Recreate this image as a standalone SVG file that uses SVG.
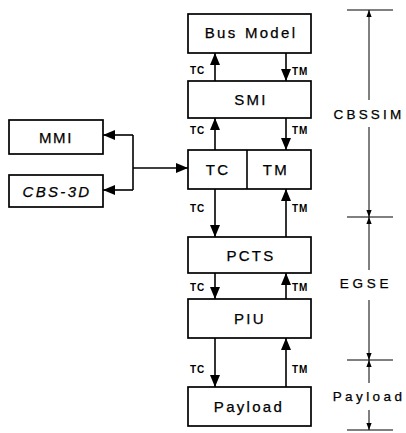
<svg xmlns="http://www.w3.org/2000/svg" width="406" height="433" viewBox="0 0 406 433">
<style>
.box{fill:#fff;stroke:#000;stroke-width:1.7}
.t{font-family:"Liberation Sans",Arial,sans-serif;font-size:15px;letter-spacing:2.3px;text-anchor:middle;fill:#000;stroke:#000;stroke-width:0.25}
.d{font-family:"Liberation Sans",Arial,sans-serif;font-size:13.5px;letter-spacing:3.2px;text-anchor:middle;fill:#000;stroke:#000;stroke-width:0.25}
.s{font-family:"Liberation Sans",Arial,sans-serif;font-size:10px;font-weight:bold;fill:#000;letter-spacing:1px}
.ln{stroke:#000;stroke-width:1.6;fill:none}
.dl{stroke:#000;stroke-width:1;fill:none}
</style>
<defs>
<marker id="ah" viewBox="0 0 12 10" refX="12" refY="5" markerWidth="12" markerHeight="10" markerUnits="userSpaceOnUse" orient="auto">
<path d="M0,0 L12,5 L0,10 Z" fill="#000"/>
</marker>
<marker id="sh" viewBox="0 0 8 6" refX="8" refY="3" markerWidth="7" markerHeight="6" markerUnits="userSpaceOnUse" orient="auto">
<path d="M0,0 L8,3 L0,6 Z" fill="#000"/>
</marker>
</defs>
<g id="connectors">
<path class="ln" d="M215,81 V53" marker-end="url(#ah)"/>
<path class="ln" d="M286,53 V81" marker-end="url(#ah)"/>
<path class="ln" d="M215,150 V118" marker-end="url(#ah)"/>
<path class="ln" d="M286,118 V150" marker-end="url(#ah)"/>
<path class="ln" d="M215,189 V237" marker-end="url(#ah)"/>
<path class="ln" d="M286,237 V189" marker-end="url(#ah)"/>
<path class="ln" d="M215,273 V299" marker-end="url(#ah)"/>
<path class="ln" d="M286,299 V273" marker-end="url(#ah)"/>
<path class="ln" d="M215,338 V387" marker-end="url(#ah)"/>
<path class="ln" d="M286,387 V338" marker-end="url(#ah)"/>
<path class="ln" d="M133,135 V190"/>
<path class="ln" d="M133,135 H103" marker-end="url(#ah)"/>
<path class="ln" d="M133,190 H103" marker-end="url(#ah)"/>
<path class="ln" d="M133,168 H188" marker-end="url(#ah)"/>
<text class="s" x="190" y="74">TC</text>
<text class="s" x="292" y="75">TM</text>
<text class="s" x="190" y="134">TC</text>
<text class="s" x="292" y="134">TM</text>
<text class="s" x="190" y="212">TC</text>
<text class="s" x="292" y="212">TM</text>
<text class="s" x="190" y="291">TC</text>
<text class="s" x="292" y="291">TM</text>
<text class="s" x="190" y="373">TC</text>
<text class="s" x="292" y="373">TM</text>
</g>
<g id="dimension">
<path class="dl" d="M347,10 H393 M347,217 H393 M347,360 H393 M347,430 H393"/>
<path class="dl" d="M369,100 V10" marker-end="url(#sh)"/>
<path class="dl" d="M369,127 V217" marker-end="url(#sh)"/>
<path class="dl" d="M369,270 V217" marker-end="url(#sh)"/>
<path class="dl" d="M369,300 V360" marker-end="url(#sh)"/>
<path class="dl" d="M369,383 V360" marker-end="url(#sh)"/>
<path class="dl" d="M369,410 V430" marker-end="url(#sh)"/>
<text class="d" x="369" y="119">CBSSIM</text>
<text class="d" x="366" y="288" style="letter-spacing:3.8px">EGSE</text>
<text class="d" x="369" y="401" style="letter-spacing:3.4px">Payload</text>
</g>
<g id="busmodel"><rect class="box" x="188" y="14" width="123" height="39"/><text class="t" x="251" y="38" word-spacing="1">Bus Model</text></g>
<g id="smi"><rect class="box" x="188" y="81" width="123" height="37"/><text class="t" x="251" y="105">SMI</text></g>
<g id="tctm"><rect class="box" x="188" y="150" width="123" height="39"/><path class="ln" d="M247,150 V189"/><text class="t" x="218" y="175">TC</text><text class="t" x="276" y="175">TM</text></g>
<g id="pcts"><rect class="box" x="188" y="237" width="123" height="36"/><text class="t" x="251" y="261">PCTS</text></g>
<g id="piu"><rect class="box" x="188" y="299" width="123" height="39"/><text class="t" x="250" y="324">PIU</text></g>
<g id="payload"><rect class="box" x="188" y="387" width="123" height="39"/><text class="t" x="249" y="412">Payload</text></g>
<g id="mmi"><rect class="box" x="9" y="120" width="94" height="34"/><text class="t" x="56" y="143" style="letter-spacing:1.6px">MMI</text></g>
<g id="cbs3d"><rect class="box" x="9" y="175" width="94" height="32"/><text class="t" x="57" y="197" font-style="italic">CBS-3D</text></g>
</svg>
